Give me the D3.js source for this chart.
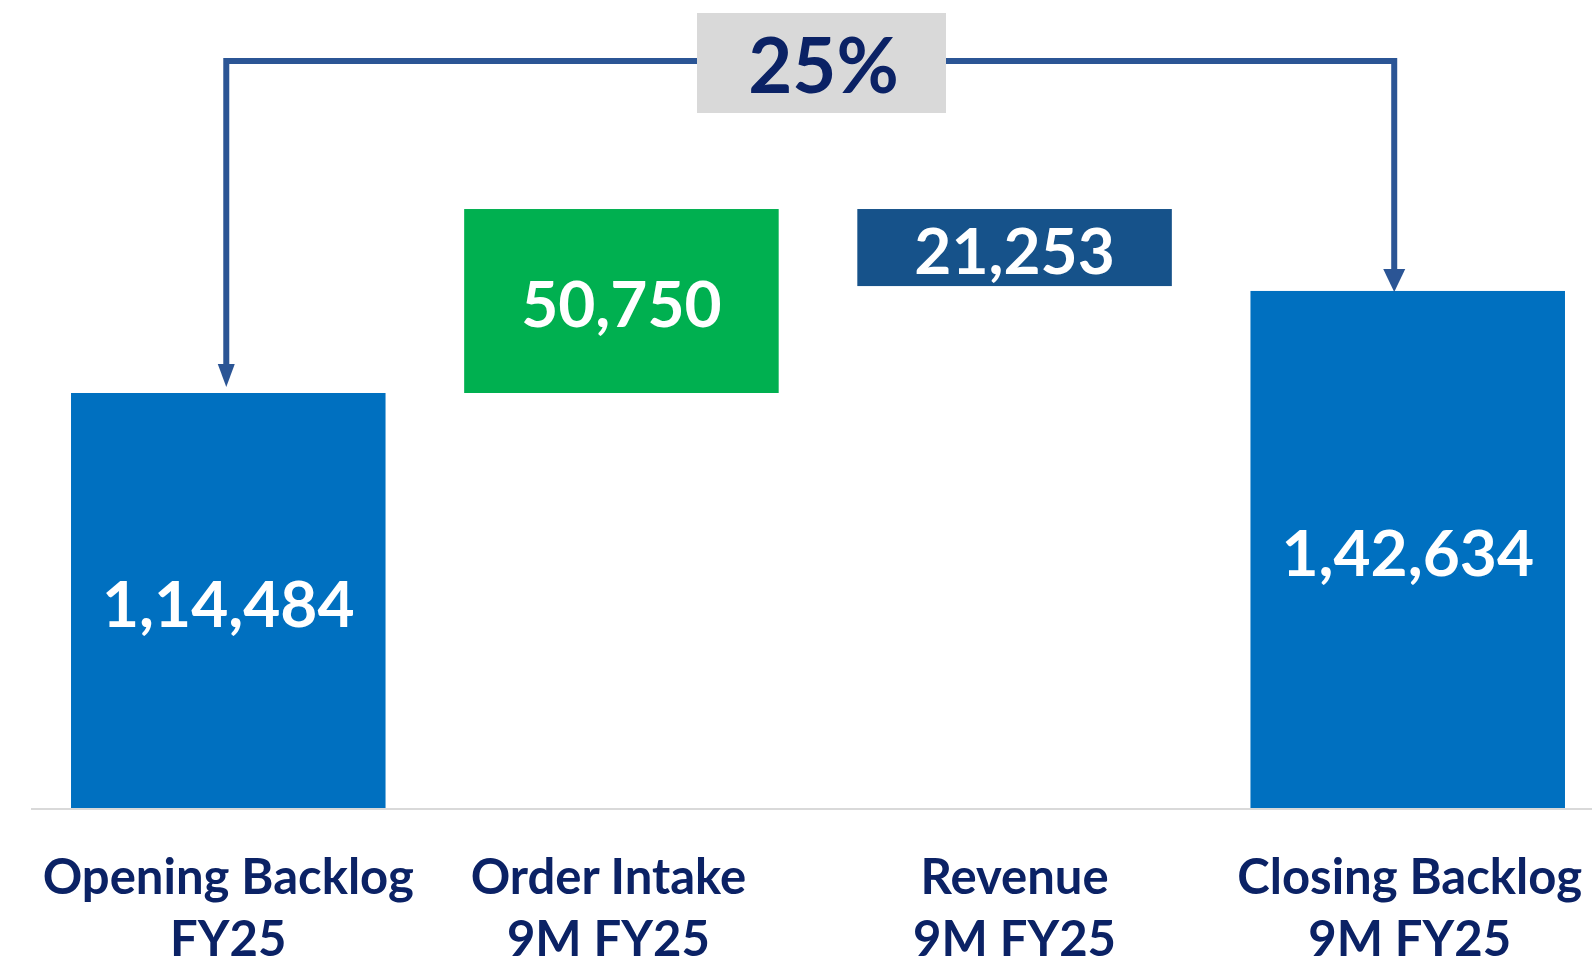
<!DOCTYPE html>
<html>
<head>
<meta charset="utf-8">
<script src="https://cdn.jsdelivr.net/npm/d3@7"></script>
<style>
  html, body { margin: 0; padding: 0; background: #ffffff; }
  svg { display: block; }
  text { font-family: Lato, "Open Sans", sans-serif; font-weight: 700; }
</style>
</head>
<body>
<svg id="chart" width="1592" height="965"></svg>
<script>
// Backlog bridge (values in the reported unit)
const categories = ["Opening Backlog|FY25", "Order Intake|9M FY25", "Revenue|9M FY25", "Closing Backlog|9M FY25"];
const values = [114484, 50750, -21253, 142634];
const kinds = ["total", "increase", "decrease", "total"];
const valueLabels = ["1,14,484", "50,750", "21,253", "1,42,634"];
const growthLabel = "25%";

const W = 1592, H = 965;
const svg = d3.select("#chart");

const colors = { total: "#0070C0", increase: "#00B050", decrease: "#16528A" };

const x = d3.scaleBand()
  .domain(categories)
  .range([31.7, 1604.3])
  .paddingInner(0.2)
  .paddingOuter(0.1);

const y = d3.scaleLinear().domain([0, 200000]).range([808, 83]);

// running start/end for each step of the bridge
let running = 0;
const bars = categories.map((c, i) => {
  let y0, y1;
  if (kinds[i] === "total") { y0 = 0; y1 = values[i]; running = values[i]; }
  else { y0 = running; y1 = running + values[i]; running = y1; }
  return { cat: c, lo: Math.min(y0, y1), hi: Math.max(y0, y1), kind: kinds[i], label: valueLabels[i] };
});

// baseline
svg.append("line")
  .attr("x1", 31).attr("x2", W)
  .attr("y1", y(0) + 1).attr("y2", y(0) + 1)
  .attr("stroke", "#D9D9D9").attr("stroke-width", 2);

// bars
svg.selectAll("rect.bar").data(bars).join("rect")
  .attr("class", "bar")
  .attr("x", d => x(d.cat))
  .attr("width", x.bandwidth())
  .attr("y", d => y(d.hi))
  .attr("height", d => y(d.lo) - y(d.hi))
  .attr("fill", d => colors[d.kind]);

// value labels inside bars
svg.selectAll("text.val").data(bars).join("text")
  .attr("class", "val")
  .attr("x", d => x(d.cat) + x.bandwidth() / 2)
  .attr("y", d => (y(d.hi) + y(d.lo)) / 2)
  .attr("dy", "0.41em")
  .attr("text-anchor", "middle")
  .attr("fill", "#ffffff")
  .attr("font-size", 64)
  .text(d => d.label);

// category labels (two lines)
const labelNudge = [0, -13, 0, 2];
const cat = svg.selectAll("text.cat").data(categories).join("text")
  .attr("class", "cat")
  .attr("text-anchor", "middle")
  .attr("fill", "#0B2265")
  .attr("font-size", 49);
cat.each(function (d, i) {
  const cx = x(d) + x.bandwidth() / 2 + labelNudge[i];
  const parts = d.split("|");
  const t = d3.select(this);
  t.append("tspan").attr("x", cx).attr("y", 894).text(parts[0]);
  t.append("tspan").attr("x", cx).attr("y", 956).text(parts[1]);
});

// growth connector from opening to closing backlog
const connColor = "#2B5595";
const topY = 61;
const leftX = x(categories[0]) + x.bandwidth() / 2 - 2;
const rightX = x(categories[3]) + x.bandwidth() / 2 - 13.5;
const leftTip = y(values[0]) - 6;
const rightTip = y(values[3]) + 1;
const headLen = 23, headW = 22;

svg.append("path")
  .attr("d", `M${leftX},${leftTip - headLen + 2} V${topY} H${rightX} V${rightTip - headLen + 2}`)
  .attr("fill", "none")
  .attr("stroke", connColor)
  .attr("stroke-width", 6)
  .attr("stroke-linejoin", "miter");

[[leftX, leftTip, 17], [rightX, rightTip, headW]].forEach(([ax, tip, hw]) => {
  svg.append("path")
    .attr("d", `M${ax - hw / 2},${tip - headLen} L${ax + hw / 2},${tip - headLen} L${ax},${tip} Z`)
    .attr("fill", connColor);
});

// growth badge
const boxX0 = 697, boxX1 = 946, boxY0 = 13, boxY1 = 113;
svg.append("rect")
  .attr("x", boxX0).attr("y", boxY0)
  .attr("width", boxX1 - boxX0).attr("height", boxY1 - boxY0)
  .attr("fill", "#D9D9D9");
svg.append("text")
  .attr("x", (boxX0 + boxX1) / 2 + 2)
  .attr("y", (boxY0 + boxY1) / 2 + 3)
  .attr("dy", "0.36em")
  .attr("text-anchor", "middle")
  .attr("fill", "#0B2265")
  .attr("font-size", 76)
  .text(growthLabel);
</script>
</body>
</html>
